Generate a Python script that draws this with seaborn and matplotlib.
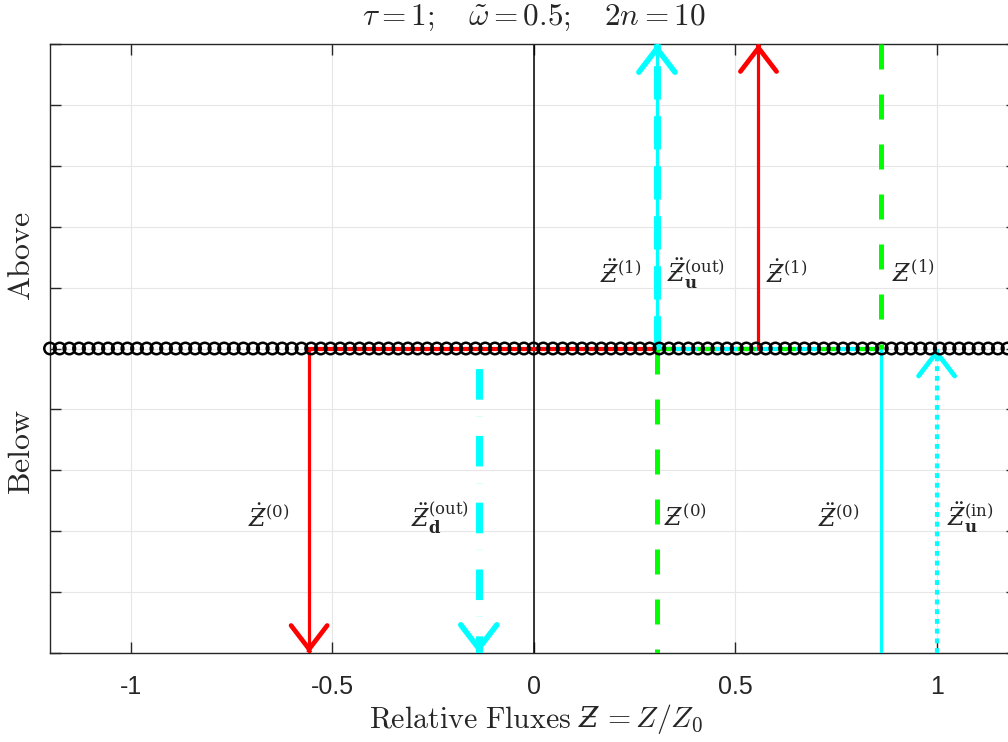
import numpy as np
import matplotlib
matplotlib.use("Agg")
import matplotlib.pyplot as plt
import seaborn as sns

# ---------------- data ----------------
x_ticks = [-1, -0.5, 0, 0.5, 1]
x_tick_labels = ["-1", "-0.5", "0", "0.5", "1"]
y_ticks = [-5, -4, -3, -2, -1, 0, 1, 2, 3, 4, 5]
grid_step = 0.024
grid_x = np.round(np.arange(-1.2, 1.2 + grid_step / 2, grid_step), 3)   # sample points on the line
grid_y = np.zeros_like(grid_x)

z_dot = [-0.557, 0.558]        # Ż(0) (below), Ż(1) (above)
z_ddot = [0.863, 0.306]        # Z̈(0) (below), Z̈(1) (above)
z_plain = [0.306, 0.863]       # Z(0) (below), Z(1) (above)
z_ddot_d_out = -0.136          # Z̈_d^(out)
z_ddot_u_out = 0.306           # Z̈_u^(out)
z_ddot_u_in = 1.0              # Z̈_u^(in)

# ---------------- style ----------------
sns.set_theme(style="whitegrid")
plt.rcParams["mathtext.fontset"] = "cm"
plt.rcParams["axes.unicode_minus"] = False
plt.rcParams["lines.scale_dashes"] = False
plt.rcParams["font.family"] = ["Liberation Sans", "DejaVu Sans"]

W, H = 1008, 742
fig = plt.figure(figsize=(W / 100, H / 100), dpi=100)
ax = fig.add_axes([50 / W, 1 - 653 / H, 2.4 * 403 / W, 609 / H])

ax.set_xlim(-1.2, 1.2)
ax.set_ylim(-5, 5)
ax.set_xticks(x_ticks)
ax.set_xticklabels(x_tick_labels)
ax.set_yticks(y_ticks)
ax.set_yticklabels([])
ax.grid(True, color="#e6e6e6", lw=0.8)
ax.set_facecolor("white")
for s in ax.spines.values():
    s.set_color("#262626")
    s.set_linewidth(1.0)
    s.set_visible(True)
ax.tick_params(axis="both", direction="in", length=8, width=1, color="#262626",
               top=True, right=True, bottom=True, left=True)
ax.tick_params(axis="x", labelsize=18, pad=16, labelcolor="#262626")

RED = "#ff0000"
CYAN = "#00ffff"
GREEN = "#00ff00"


def head(x, y_tip, direction, color, lw):
    ax.annotate("", xy=(x, y_tip), xytext=(x, y_tip - direction * 0.02),
                arrowprops=dict(arrowstyle="->,head_length=1.7,head_width=1.3",
                                mutation_scale=10, color=color, lw=lw,
                                shrinkA=0, shrinkB=0, joinstyle="miter"),
                annotation_clip=False, zorder=6)


# central black line
ax.axvline(0, color="black", lw=1.1, zorder=2)

# horizontal coloured segments on the line
ax.plot([z_dot[0], z_dot[1]], [0, 0], color=RED, lw=3, zorder=3)
ax.plot([z_ddot[1], z_ddot[0]], [0, 0], color=CYAN, lw=3, zorder=3.1)
ax.plot([z_plain[0], z_plain[1]], [0, 0], color=GREEN, lw=3, dashes=(13, 16), zorder=3.2)

# Ż(0): red, down
ax.plot([z_dot[0], z_dot[0]], [0, -5], color=RED, lw=2.3, zorder=4)
head(z_dot[0], -5, -1, RED, 3.4)
# Ż(1): red, up
ax.plot([z_dot[1], z_dot[1]], [0, 5], color=RED, lw=2.3, zorder=4)
head(z_dot[1], 5, 1, RED, 3.4)

# Z̈(0): cyan solid down, Z̈(1): cyan solid up
ax.plot([z_ddot[0], z_ddot[0]], [0, -5], color=CYAN, lw=2.3, zorder=4)
ax.plot([z_ddot[1], z_ddot[1]], [0, 5], color=CYAN, lw=2.3, zorder=4)

# Z(0): green dashed down, Z(1): green dashed up
ax.plot([z_plain[0], z_plain[0]], [0, -5], color=GREEN, lw=3.6, dashes=(18, 18), zorder=4)
ax.plot([z_plain[1], z_plain[1]], [5, 0], color=GREEN, lw=3.6, dashes=(18, 18), zorder=4)

# Z̈_d^(out): cyan thick dashed down
ax.plot([z_ddot_d_out, z_ddot_d_out], [0, -5], color=CYAN, lw=5, dashes=(0.1, 14, 22, 12), zorder=4)
head(z_ddot_d_out, -5, -1, CYAN, 4)
# Z̈_u^(out): cyan thick dashed up
ax.plot([z_ddot_u_out, z_ddot_u_out], [0, 5], color=CYAN, lw=5, dashes=(24, 12), zorder=4.1)
head(z_ddot_u_out, 5, 1, CYAN, 4)
# Z̈_u^(in): cyan dotted up from bottom to the line
ax.plot([z_ddot_u_in, z_ddot_u_in], [-5, 0], color=CYAN, lw=3, dashes=(3.5, 3.5), zorder=4)
head(z_ddot_u_in, 0, 1, CYAN, 3.4)

# sample circles
sns.scatterplot(x=grid_x, y=grid_y, ax=ax, marker="o", s=68, facecolor="none",
                edgecolor="black", linewidth=1.8, clip_on=False, zorder=7, legend=False)

# labels (DejaVu Serif math has the italic stroked Z)
Z = r"\mathit{Ƶ}"
lab_kw = dict(fontsize=17, va="center", zorder=8, math_fontfamily="dejavuserif")
ax.text(0.267, 1.22, r"$\ddot{%s}^{(1)}$" % Z, ha="right", **lab_kw)
ax.text(0.332, 1.22, r"$\ddot{%s}_{\mathbf{u}}^{(\mathrm{out})}$" % Z, ha="left", **lab_kw)
ax.text(0.577, 1.22, r"$\dot{%s}^{(1)}$" % Z, ha="left", **lab_kw)
ax.text(0.890, 1.22, r"$%s^{(1)}$" % Z, ha="left", **lab_kw)
ax.text(-0.606, -2.78, r"$\dot{%s}^{(0)}$" % Z, ha="right", **lab_kw)
ax.text(-0.160, -2.78, r"$\ddot{%s}_{\mathbf{d}}^{(\mathrm{out})}$" % Z, ha="right", **lab_kw)
ax.text(0.324, -2.78, r"$%s^{(0)}$" % Z, ha="left", **lab_kw)
ax.text(0.808, -2.78, r"$\ddot{%s}^{(0)}$" % Z, ha="right", **lab_kw)
ax.text(1.027, -2.78, r"$\ddot{%s}_{\mathbf{u}}^{(\mathrm{in})}$" % Z, ha="left", **lab_kw)

# title
fig.text(534 / W, 1 - 18 / H, r"$\tau = 1;\quad \tilde{\omega} = 0.5;\quad 2n = 10$",
         fontsize=22.5, ha="center", va="center")

# x label built from three pieces so the stroked Z can come from DejaVu Serif
renderer = fig.canvas.get_renderer()
base_y = 1 - 727 / H
parts = [
    (r"$\mathrm{Relative\ Fluxes}$", dict(fontsize=21.5), 7),
    (r"$%s$" % Z, dict(fontsize=20, math_fontfamily="dejavuserif"), 1),
    (r"$= Z/Z_0$", dict(fontsize=21.5), 0),
]
texts = []
x_px = 0.0
for s, kw, gap in parts:
    t = fig.text(x_px / W, base_y, s, ha="left", va="baseline", **kw)
    bb = t.get_window_extent(renderer)
    texts.append((t, x_px))
    x_px = x_px + bb.width + gap
total = x_px
start = 536 - total / 2
for t, off in texts:
    t.set_x((start + off) / W)

fig.text(22 / W, 1 - 256 / H, r"$\mathrm{Above}$", fontsize=23, rotation=90,
         ha="center", va="center")
fig.text(22 / W, 1 - 452 / H, r"$\mathrm{Below}$", fontsize=23, rotation=90,
         ha="center", va="center")

fig.savefig("out.png", dpi=100)
